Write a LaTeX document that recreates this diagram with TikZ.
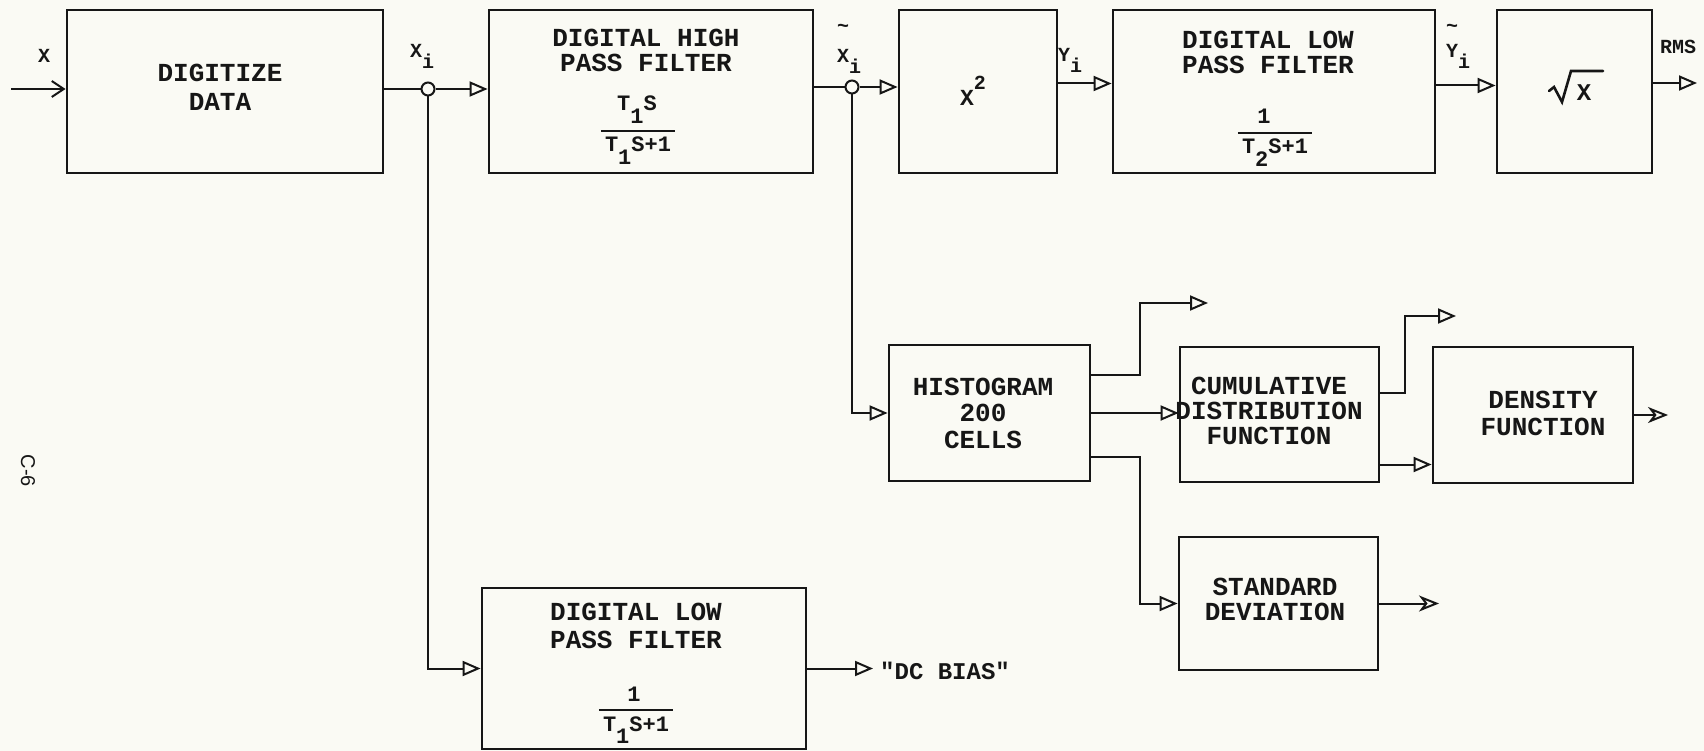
\documentclass[tikz,border=0pt]{standalone}
\usepackage{fontspec}
\setmainfont{Liberation Mono}[Ligatures=TeXOff]
\newfontfamily\pagefont{Liberation Sans}
\usetikzlibrary{arrows.meta}
\definecolor{paper}{RGB}{250,250,244}
\definecolor{ink}{RGB}{22,22,22}
\newcommand\sbs[1]{\raisebox{-0.55em}{#1}}
\newcommand\sps[1]{\raisebox{0.7em}{#1}}
\newcommand\tld[1]{\makebox[0pt][l]{\makebox[12pt]{\raisebox{#1}{\textasciitilde}}}}
\begin{document}
\begin{tikzpicture}[x=1pt,y=-1pt,
  every node/.style={text=ink},
  blk/.style={draw=ink, line width=2.8pt, inner sep=0pt},
  conn/.style={draw=ink, line width=2pt},
  arr/.style={conn, -{Triangle[open,length=18pt,width=15pt,line width=2pt]}},
  barb/.style={conn, -{Straight Barb[length=12pt,width=16pt,line width=2pt]}},
  stl/.style={conn, -{Stealth[open,length=20pt,width=16pt,inset=6pt,line width=2pt]}},
  ttl/.style={font=\fontsize{26}{25}\selectfont\bfseries, align=center, inner sep=0pt},
  frc/.style={font=\fontsize{22}{22}\selectfont\bfseries, inner sep=0pt, anchor=base},
  lbl/.style={font=\fontsize{20}{20}\selectfont\bfseries, inner sep=0pt, anchor=base west},
  jct/.style={circle, draw=ink, line width=2pt, fill=paper, minimum size=13pt, inner sep=0pt}]
\fill[paper] (0,0) rectangle (1704,751);
\useasboundingbox (0,0) rectangle (1704,751);

% blocks
\node[blk, minimum width=316pt, minimum height=163pt] (dig)  at (225,91.5) {};
\node[blk, minimum width=324pt, minimum height=163pt] (hpf)  at (651,91.5) {};
\node[blk, minimum width=158pt, minimum height=163pt] (sq)   at (978,91.5) {};
\node[blk, minimum width=322pt, minimum height=163pt] (lpf2) at (1274,91.5) {};
\node[blk, minimum width=155pt, minimum height=163pt] (rt)   at (1574.5,91.5) {};
\node[blk, minimum width=201pt, minimum height=136pt] (hist) at (989.5,413) {};
\node[blk, minimum width=199pt, minimum height=135pt] (cdf)  at (1279.5,414.5) {};
\node[blk, minimum width=200pt, minimum height=136pt] (den)  at (1533,415) {};
\node[blk, minimum width=199pt, minimum height=133pt] (std)  at (1278.5,603.5) {};
\node[blk, minimum width=324pt, minimum height=161pt] (lpf1) at (644,668.5) {};

% block texts
\node[ttl] (digT) at (220,87.5) {DIGITIZE\\[4pt]DATA};
\node[ttl] (hpfT) at (646,50.5) {DIGITAL HIGH\\PASS FILTER};
\node[frc] (hpfN) at (637,111) {T\sbs{1}S};
\node[frc] (hpfD) at (638,152) {T\sbs{1}S+1};
\draw[conn] ([shift={(-4pt,6pt)}]hpfD.north west) -- ([shift={(4pt,6pt)}]hpfD.north east);
\node[font=\fontsize{23}{23}\selectfont\bfseries, inner sep=0pt] (sqT) at (973,91) {X\sps{\fontsize{20}{20}\selectfont 2}};
\node[ttl] (lpf2T) at (1268,52.5) {DIGITAL LOW\\PASS FILTER};
\node[frc] (lpf2N) at (1264,124) {1};
\node[frc] (lpf2D) at (1275,154) {T\sbs{2}S+1};
\draw[conn] ([shift={(-4pt,6pt)}]lpf2D.north west) -- ([shift={(4pt,6pt)}]lpf2D.north east);
\node[font=\fontsize{24}{24}\selectfont\bfseries, inner sep=0pt] (rtT) at (1584,92.5) {X};
\draw[draw=ink, line width=2.6pt, line join=miter, line cap=round]
  ([shift={(-35pt,1.5pt)}]rtT.center) -- ([shift={(-30pt,5.5pt)}]rtT.center)
  -- ([shift={(-22pt,-9.5pt)}]rtT.center) -- ([shift={(-13pt,21.5pt)}]rtT.center)
  -- ([shift={(19pt,21.5pt)}]rtT.center);
\node[ttl] (histT) at (983,413) {HISTOGRAM\\[1.5pt]200\\[1.5pt]CELLS};
\node[ttl] (cdfT) at (1269,411) {CUMULATIVE\\DISTRIBUTION\\FUNCTION};
\node[ttl] (denT) at (1543,413.5) {DENSITY\\[2pt]FUNCTION};
\node[ttl] (stdT) at (1275,599.5) {STANDARD\\DEVIATION};
\node[ttl] (lpf1T) at (636,626) {DIGITAL LOW\\[3pt]PASS FILTER};
\node[frc] (lpf1N) at (634,701) {1};
\node[frc] (lpf1D) at (636,731) {T\sbs{1}S+1};
\draw[conn] ([shift={(-4pt,6pt)}]lpf1D.north west) -- ([shift={(4pt,6pt)}]lpf1D.north east);

% signal labels
\node[lbl] (lx)   at (38,63) {X};
\node[lbl] (lxi)  at (410,58) {X\sbs{i}};
\node[lbl] (lxt)  at (837,63) {\tld{1.5em}X\sbs{i}};
\node[lbl] (lyi)  at (1058,62) {Y\sbs{i}};
\node[lbl] (lyt)  at (1446,58) {\tld{1.25em}Y\sbs{i}};
\node[font=\fontsize{20}{20}\selectfont\bfseries, inner sep=0pt] (lrms) at (1678,47) {RMS};
\node[font=\fontsize{24}{24}\selectfont\bfseries, inner sep=0pt, anchor=base west] (ldc) at (880,679) {\char"22 DC BIAS\char"22};
\node[font=\pagefont\fontsize{20}{20}\selectfont, rotate=-90, inner sep=0pt] (pg) at (28,471) {C-6};

% free ends
\coordinate (in)    at (11,89);
\coordinate (hout)  at (1208,303);
\coordinate (cout)  at (1456,316);
\coordinate (dout)  at (1668,415);
\coordinate (sout)  at (1439,603.5);
\coordinate (rout)  at (1697,83);
\coordinate (dcout) at (873,668.5);

% junctions
\node[jct] (j1) at (428,89) {};
\node[jct] (j2) at (852,87) {};

% connectors
\draw[barb] (in) -- (in -| dig.west);
\draw[conn] (dig.east |- j1) -- (j1.west);
\draw[arr] (j1.east) -- (j1 -| hpf.west);
\draw[arr] (j1.south) |- (lpf1.west);
\draw[conn] (hpf.east |- j2) -- (j2.west);
\draw[arr] (j2.east) -- (j2 -| sq.west);
\draw[arr] (j2.south) |- (hist.west);
\draw[arr] ([yshift=8pt]sq.east) -- ([yshift=8pt]sq.east -| lpf2.west);
\draw[arr] ([yshift=6pt]lpf2.east) -- ([yshift=6pt]lpf2.east -| rt.west);
\draw[arr] (rout -| rt.east) -- (rout);
\draw[arr] ([yshift=38pt]hist.east) -- ++(49pt,0) |- (hout);
\draw[arr] (hist.east) -- (hist.east -| cdf.west);
\draw[arr] ([yshift=-44pt]hist.east) -- ++(49pt,0) |- (std.west);
\draw[arr] ([yshift=22pt]cdf.east) -- ++(25pt,0) |- (cout);
\draw[arr] ([yshift=-50pt]cdf.east) -- ([yshift=-50pt]cdf.east -| den.west);
\draw[stl] (den.east) -- (dout);
\draw[stl] (std.east) -- (sout);
\draw[arr] (lpf1.east) -- (dcout);
\end{tikzpicture}
\end{document}
